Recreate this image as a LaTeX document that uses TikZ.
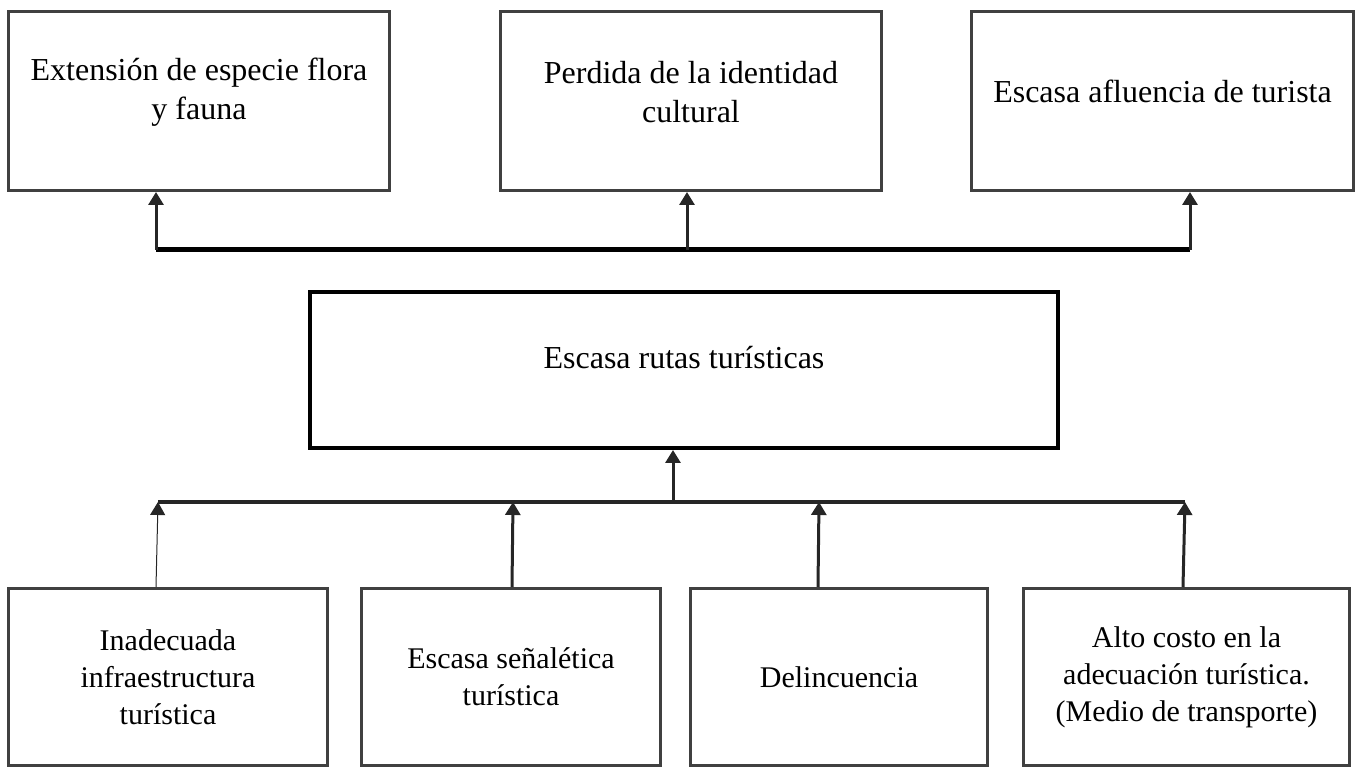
\documentclass[tikz,border=0pt]{standalone}
\usepackage{fontspec}
\setmainfont{Liberation Serif}
\usetikzlibrary{arrows.meta}
\definecolor{boxgray}{HTML}{404040}
\definecolor{linegray}{HTML}{262626}
\tikzset{>={Triangle[length=6.5pt,width=7.5pt]},
effect/.style={draw=boxgray,line width=1.5pt,minimum width=190.5pt,minimum height=89.5pt,inner sep=0pt}, % top row boxes
problem/.style={draw=black,line width=2pt,minimum width=374pt,minimum height=78pt,inner sep=0pt}, % central problem
cause/.style={draw=boxgray,line width=1.5pt,minimum height=88.5pt,inner sep=0pt,align=center,font=\fontsize{15}{18.5}\selectfont}, % bottom row boxes
txt/.style={align=center,inner sep=0pt,font=\fontsize{16}{19.5}\selectfont},
link/.style={->,draw=linegray,line width=1.5pt},
bar/.style={draw=linegray,line width=2pt}
}

\begin{document}
\begin{tikzpicture}[x=0.5pt,y=-0.5pt]
    \useasboundingbox (0,0) rectangle (1357,769);

    % effects
    \node[effect] (T1) at (199,101) {};
    \node[effect] (T2) at (691,101) {};
    \node[effect,minimum width=191pt] (T3) at (1162.5,101) {};
    \node[txt] (T1txt) at ([yshift=4.5pt]T1.center) {Extensión de especie flora\\y fauna};
    \node[txt] (T2txt) at ([yshift=4.5pt]T2.center) {Perdida de la identidad\\cultural};
    \node[txt] (T3txt) at ([yshift=5pt]T3.center) {Escasa afluencia de turista};

    % problem
    \node[problem] (C) at (684,370) {};
    \node[txt] (Ctxt) at ([yshift=6pt]C.center) {Escasa rutas turísticas};

    % causes
    \node[cause,minimum width=159.5pt] (B1) at (168,677) {Inadecuada\\infraestructura\\turística};
    \node[cause,minimum width=149.5pt] (B2) at (511,677) {Escasa señalética\\turística};
    \node[cause,minimum width=148.5pt] (B3) at (839,677) {Delincuencia};
    \node[cause,minimum width=163pt] (B4) at (1186.5,677) {Alto costo en la\\adecuación turística.\\(Medio de transporte)};

    % upper joints
    \coordinate (u1) at (156,250);
    \coordinate (u2) at (687,250);
    \coordinate (u3) at (1190,250);
    \draw[black,line width=2.5pt] (u1) -- (u3);
    \draw[link] (u1) -- (u1 |- T1.south);
    \draw[link] (u2) -- (u2 |- T2.south);
    \draw[link] (u3) -- (u3 |- T3.south);

    % lower joints
    \coordinate (l0) at (673,502);
    \coordinate (l1) at (158,502);
    \coordinate (l2) at (513,502);
    \coordinate (l3) at (819,502);
    \coordinate (l4) at (1185,502);
    \draw[bar] (l1) -- (l4);
    \draw[link] (l0) -- (l0 |- C.south);
    \draw[link,line width=0.5pt] ([xshift=-1pt]l1 |- B1.north) -- (l1);
    \draw[link] ([xshift=-0.5pt]l2 |- B2.north) -- (l2);
    \draw[link] ([xshift=-0.5pt]l3 |- B3.north) -- (l3);
    \draw[link] ([xshift=-1pt]l4 |- B4.north) -- (l4);
\end{tikzpicture}
\end{document}
